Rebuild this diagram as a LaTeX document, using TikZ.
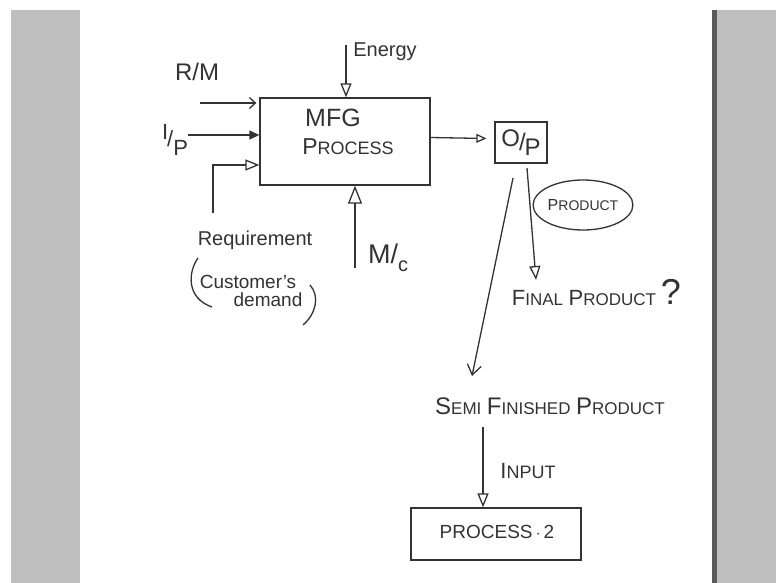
\documentclass[tikz,border=0pt]{standalone}
\usepackage{fontspec}
\setmainfont{Liberation Sans}
\usetikzlibrary{arrows.meta,shapes.geometric}
\definecolor{ink}{HTML}{333333}
\definecolor{pagegray}{HTML}{BFBFBF}
\definecolor{edgegray}{HTML}{5A5A5A}
\newcommand\fs[2]{{\fontsize{#1}{#1}\selectfont #2}}
\begin{document}
\begin{tikzpicture}[x=1pt,y=-1pt, line width=1.3pt, draw=ink,
  txt/.style={inner sep=0pt, text=ink, font=\fontsize{20}{22}\selectfont},
  tri/.style={-{Triangle[open,length=14pt,width=11pt]}},
  bigtri/.style={-{Triangle[open,length=18pt,width=14pt]}},
  barb/.style={-{Straight Barb[length=6pt,width=11pt]}},
  vee/.style={-{Straight Barb[length=10pt,width=14pt]}},
  boxed/.style={draw=ink, rectangle, inner sep=0pt}]

\useasboundingbox (0,0) rectangle (776,583);
\fill[white] (0,0) rectangle (776,583);
\fill[pagegray] (11,10) rectangle (80,583);
\fill[pagegray] (717,10) rectangle (776,583);
\fill[edgegray] (712,10) rectangle (717,583);

% main process box
\node[boxed, minimum width=170pt, minimum height=87pt] (mfg) at (345,141.5) {};
\node[txt] (mfgA) at (333,118) {\fs{25}{MFG}};
\node[txt] (mfgB) at (348,147) {\fs{23}{P}\fs{18}{ROCESS}};

% inputs
\node[txt] (rm) at (197,72) {\fs{24}{R/M}};
\coordinate (rmS) at (200,103);
\draw[barb] (rmS) -- ([xshift=-3pt]rmS -| mfg.west);

\node[txt] (ip) at (175,140) {\fs{22}{\raisebox{7pt}{I}\hspace{-1pt}/\raisebox{-9pt}{P}}};
\coordinate (ipS) at (188,135);
\draw[-{Triangle[length=10pt,width=9pt]}] (ipS) -- (ipS -| mfg.west);

\node[txt] (req) at (255,240) {\fs{20}{Requirement}};
\coordinate (reqS) at (213,213);
\draw[tri] (reqS) |- (mfg.west |- 0,165);

\node[txt] (cust) at (248,282) {\fs{19}{Customer's}};
\node[txt] (dem) at (268,300) {\fs{19}{demand}};
\draw (198,258) .. controls (188,272) and (186,298) .. (212,307);
\draw (310,285) .. controls (320,296) and (316,314) .. (303,325);

% energy and machine
\node[txt] (energy) at (385,52) {\fs{20}{Energy}};
\coordinate (enS) at (346,45);
\draw[tri] (enS) -- (enS |- mfg.north);

\node[txt] (mc) at (388,258) {\fs{27}{M}\fs{27}{/}\raisebox{-8pt}{\fs{20}{c}}};
\coordinate (mcS) at (355,268);
\draw[bigtri] (mcS) -- (mcS |- mfg.south);

% output
\node[boxed, minimum width=52pt, minimum height=41pt] (op) at (521,142.5) {};
\node[txt] (optxt) at (op.center) {\fs{24}{\raisebox{4pt}{O}\hspace{-1pt}/\hspace{-1pt}\raisebox{-5pt}{P}}};
\draw[-{Triangle[open,length=10pt,width=9pt]}] ([yshift=4pt]mfg.east) -- ([xshift=-8pt,yshift=4pt]op.west);

\node[ellipse, draw=ink, minimum width=90pt, minimum height=50pt, inner sep=0pt, text=ink] (prod) at (583,205) {\fs{16}{P}\fs{14}{RODUCT}};

\node[txt] (final) at (584,298) {\fs{22}{F}\fs{17}{INAL} \fs{22}{P}\fs{17}{RODUCT}};
\node[txt] (qm) at (671,292) {\fs{36}{?}};
\coordinate (paS) at (527,168);
\coordinate (paE) at (536,280);
\draw[tri] (paS) -- (paE);

\node[txt] (semi) at (550,406) {\fs{24}{S}\fs{17}{EMI} \fs{24}{F}\fs{17}{INISHED} \fs{24}{P}\fs{17}{RODUCT}};
\coordinate (saS) at (513,178);
\coordinate (saE) at (472,376);
\draw[vee] (saS) -- (saE);

% process 2
\node[boxed, minimum width=170pt, minimum height=52pt] (p2) at (496,534) {};
\node[txt] (p2txt) at (497,532) {\fs{19}{PROCESS\,$\cdot$\,2}};
\node[txt] (inp) at (528,471) {\fs{22}{I}\fs{18}{NPUT}};
\coordinate (inS) at (483,427);
\draw[tri] (inS) -- (inS |- p2.north);

\end{tikzpicture}
\end{document}
